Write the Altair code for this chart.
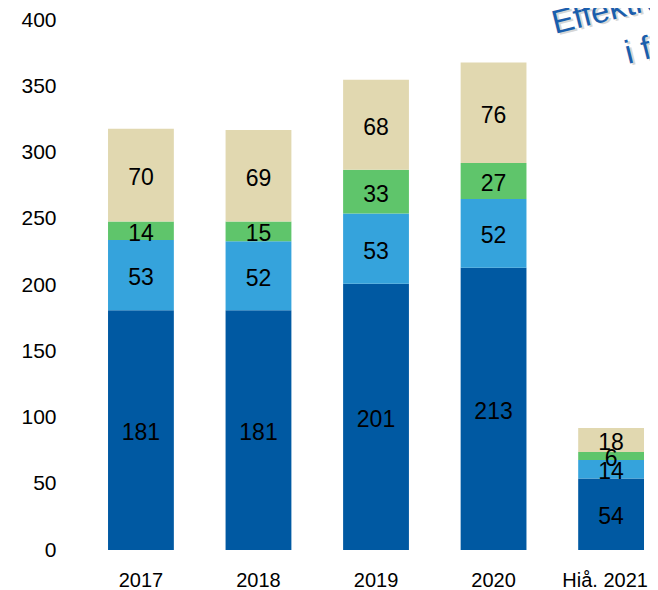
import altair as alt
import pandas as pd

years = ["2017", "2018", "2019", "2020", "Hiå. 2021"]
series = ["A", "B", "C", "D"]
colors = ["#0059A2", "#35A3DC", "#5FC56B", "#E1D8B0"]
v_a = [181, 181, 201, 213, 54]
v_b = [53, 52, 53, 52, 14]
v_c = [14, 15, 33, 27, 6]
v_d = [70, 69, 68, 76, 18]
y_ticks = [0, 50, 100, 150, 200, 250, 300, 350, 400]

rows = []
for i, yr in enumerate(years):
    base = 0
    for s, vals in zip(series, [v_a, v_b, v_c, v_d]):
        v = vals[i]
        rows.append({"year": yr, "series": s, "value": v, "y0": base, "y1": base + v,
                     "mid": base + v / 2, "order": series.index(s)})
        base += v
df = pd.DataFrame(rows)

xscale = alt.Scale(domain=years, paddingInner=0.44, paddingOuter=0.183, align=0.884)
yscale = alt.Scale(domain=[0, 400])

bars = alt.Chart(df).mark_bar(stroke=None).encode(
    x=alt.X("year:N", scale=xscale, sort=years,
            axis=alt.Axis(title=None, labelAngle=0, domain=False, ticks=False,
                          labelFont="Liberation Sans", labelFontSize=20,
                          labelColor="#000000", labelPadding=20,
                          labelOffset=alt.expr("datum.value == 'Hiå. 2021' ? -6 : 0"))),
    y=alt.Y("y0:Q", scale=yscale,
            axis=alt.Axis(title=None, values=y_ticks, grid=False, domain=False,
                          ticks=False, labelFont="Liberation Sans", labelFontSize=21,
                          labelColor="#000000", labelPadding=14)),
    y2="y1:Q",
    color=alt.Color("series:N", scale=alt.Scale(domain=series, range=colors), legend=None),
)

labels = alt.Chart(df).mark_text(font="Liberation Sans", fontSize=23, color="#000000",
                                 baseline="middle", align="center", dy=3).encode(
    x=alt.X("year:N", scale=xscale, sort=years),
    y=alt.Y("mid:Q", scale=yscale),
    text="value:Q",
)

title_df = pd.DataFrame({"t": ["Effektiv", "i fo"], "px": [485, 558], "py": [14, 44]})
shadow = alt.Chart(title_df).mark_text(font="Liberation Sans", fontSize=33, color="#BBBBBB",
                                       angle=346, align="left", baseline="alphabetic",
                                       dx=2, dy=2, opacity=0.6).encode(
    x=alt.X("px:Q", scale=None), y=alt.Y("py:Q", scale=None), text="t:N")
title = alt.Chart(title_df).mark_text(font="Liberation Sans", fontSize=33, color="#1A5EAD",
                                      angle=346, align="left", baseline="alphabetic").encode(
    x=alt.X("px:Q", scale=None), y=alt.Y("py:Q", scale=None), text="t:N")

chart = alt.layer(bars, labels, shadow, title).properties(
    width=579, height=530,
    autosize=alt.AutoSizeParams(type="none"),
    padding={"left": 62, "top": 12, "right": 1, "bottom": 40},
).configure(background="#FFFFFF").configure_view(stroke=None, strokeWidth=0)

chart.save("out.html", embed_options={"renderer": "svg", "actions": False})
